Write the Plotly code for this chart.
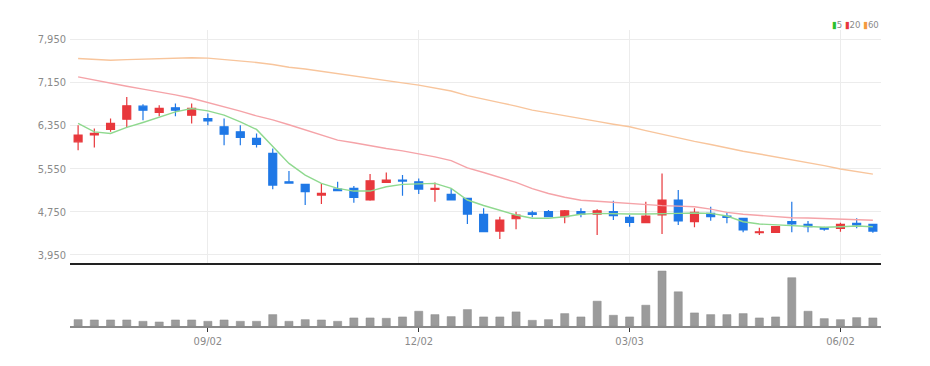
import pandas as pd
import plotly.graph_objects as go

dates = [d.strftime("%Y-%m-%d") for d in pd.date_range("2024-07-08", periods=50, freq="W-MON")]

open_ = [6048, 6178, 6278, 6469, 6709, 6593, 6678, 6543, 6481, 6326,
         6233, 6111, 5833, 5307, 5259, 5061, 5172, 5185, 4969, 5296,
         5339, 5307, 5167, 5074, 5000, 4704, 4394, 4622, 4733, 4752,
         4659, 4752, 4709, 4752, 4648, 4548, 4691, 4969, 4567, 4722,
         4672, 4630, 4363, 4370, 4567, 4518, 4456, 4444, 4537, 4518]
high = [6357, 6296, 6481, 6881, 6746, 6728, 6759, 6759, 6574, 6481,
        6357, 6204, 5926, 5506, 5270, 5278, 5307, 5228, 5450, 5481,
        5431, 5370, 5296, 5185, 5000, 4815, 4659, 4752, 4770, 4783,
        4783, 4815, 4796, 4956, 4691, 4937, 5463, 5154, 4815, 4844,
        4733, 4641, 4456, 4487, 4937, 4580, 4474, 4548, 4630, 4518]
low = [5894, 5944, 6233, 6315, 6450, 6524, 6524, 6389, 6357, 5987,
       5987, 5944, 5167, 5278, 4876, 4894, 5140, 4918, 4956, 5296,
       5048, 5080, 4937, 4969, 4524, 4372, 4246, 4426, 4648, 4648,
       4537, 4648, 4320, 4598, 4474, 4537, 4339, 4506, 4463, 4585,
       4537, 4370, 4320, 4370, 4370, 4370, 4400, 4381, 4444, 4363]
close = [6172, 6204, 6389, 6715, 6635, 6667, 6635, 6667, 6437, 6191,
         6130, 6000, 5246, 5283, 5122, 5093, 5141, 5019, 5326, 5339,
         5320, 5172, 5185, 4969, 4709, 4381, 4598, 4691, 4704, 4659,
         4770, 4709, 4770, 4678, 4556, 4672, 4969, 4580, 4741, 4659,
         4648, 4413, 4381, 4474, 4524, 4474, 4431, 4518, 4506, 4394]

volume = [19, 18, 18, 18, 14, 12, 18, 18, 14, 18,
          14, 14, 34, 14, 19, 18, 14, 24, 24, 23,
          27, 44, 34, 28, 49, 27, 27, 42, 17, 19,
          37, 27, 74, 32, 27, 62, 164, 102, 39, 34,
          34, 37, 24, 27, 144, 44, 22, 19, 25, 24]

ma5 = [6389, 6233, 6204, 6315, 6407, 6511, 6604, 6667, 6622, 6543,
       6419, 6278, 5956, 5648, 5432, 5278, 5185, 5135, 5135, 5215,
       5259, 5265, 5278, 5185, 4969, 4867, 4783, 4691, 4630, 4630,
       4659, 4704, 4722, 4709, 4709, 4709, 4722, 4722, 4728, 4722,
       4672, 4567, 4524, 4506, 4493, 4474, 4463, 4474, 4487, 4474]
ma20 = [7252, 7190, 7128, 7078, 7025, 6976, 6918, 6856, 6780, 6700,
        6618, 6530, 6455, 6365, 6272, 6180, 6080, 6030, 5975, 5925,
        5880, 5830, 5770, 5700, 5565, 5480, 5390, 5295, 5180, 5090,
        5020, 4965, 4945, 4925, 4907, 4880, 4866, 4855, 4845, 4800,
        4740, 4705, 4680, 4660, 4641, 4635, 4625, 4615, 4605, 4593]
ma60 = [7593, 7575, 7561, 7572, 7583, 7593, 7606, 7608, 7600, 7577,
        7555, 7520, 7483, 7432, 7398, 7353, 7310, 7268, 7222, 7185,
        7141, 7100, 7050, 6990, 6905, 6845, 6775, 6710, 6637, 6585,
        6528, 6480, 6428, 6375, 6327, 6255, 6186, 6122, 6056, 5999,
        5935, 5873, 5823, 5770, 5718, 5667, 5606, 5545, 5498, 5450]

tick_dates = ["2024-09-02", "2024-12-02", "2025-03-03", "2025-06-02"]
tick_labels = ["09/02", "12/02", "03/03", "06/02"]
price_ticks = [3950, 4750, 5550, 6350, 7150, 7950]

UP = "#e8383c"
DOWN = "#1f78e6"
FONT = "Liberation Sans Narrow, DejaVu Sans Condensed, Arial Narrow, sans-serif"

fig = go.Figure()
fig.add_trace(go.Scatter(x=dates, y=ma60, mode="lines", line=dict(color="#f8c59c", width=1.4),
                         xaxis="x", yaxis="y", hoverinfo="skip"))
fig.add_trace(go.Scatter(x=dates, y=ma20, mode="lines", line=dict(color="#f5a3a8", width=1.4),
                         xaxis="x", yaxis="y", hoverinfo="skip"))
fig.add_trace(go.Scatter(x=dates, y=ma5, mode="lines", line=dict(color="#8fd98f", width=1.4),
                         xaxis="x", yaxis="y", hoverinfo="skip"))
fig.add_trace(go.Candlestick(x=dates, open=open_, high=high, low=low, close=close,
                             increasing=dict(line=dict(color=UP, width=1.2), fillcolor=UP),
                             decreasing=dict(line=dict(color=DOWN, width=1.2), fillcolor=DOWN),
                             whiskerwidth=0, xaxis="x", yaxis="y"))
fig.add_trace(go.Bar(x=dates, y=volume, marker=dict(color="#9b9b9b", line=dict(color="#8c8c8c", width=0.5)),
                     width=0.5, xaxis="x2", yaxis="y2"))

fig.update_layout(
    width=930, height=366,
    margin=dict(l=62, r=57, t=22, b=48),
    paper_bgcolor="white", plot_bgcolor="white",
    showlegend=False,
    font=dict(family=FONT, size=11, color="#8a8a8a"),
    xaxis=dict(type="category", range=[-0.5, 49.5], anchor="y",
               tickvals=tick_dates, ticktext=tick_labels, showticklabels=False,
               showgrid=True, gridcolor="#ececec", gridwidth=1,
               showline=True, linecolor="#222222", linewidth=2, ticks="",
               rangeslider=dict(visible=False), zeroline=False),
    xaxis2=dict(type="category", range=[-0.5, 49.5], anchor="y2", matches="x",
                tickvals=tick_dates, ticktext=tick_labels, showgrid=False,
                showline=True, linecolor="#8a8a8a", linewidth=2,
                ticks="outside", ticklen=4, tickcolor="#333333", tickwidth=1,
                tickfont=dict(size=11, color="#8a8a8a")),
    yaxis=dict(domain=[0.213, 1], range=[3802, 8122], tickvals=price_ticks,
               tickformat=",d", showgrid=True, gridcolor="#ececec", gridwidth=1,
               zeroline=False, ticks="", ticklabelstandoff=3,
               tickfont=dict(size=11, color="#8a8a8a")),
    yaxis2=dict(domain=[0, 0.213], range=[0, 188], showticklabels=False,
                showgrid=False, zeroline=False),
    annotations=[dict(xref="paper", yref="paper", x=1.0, y=1.017, xanchor="right", yanchor="middle",
                      showarrow=False,
                      text="<span style='color:#2cbf2c'>▮</span><span style='color:#8a8a8a'>5</span> "
                           "<span style='color:#e8383c'>▮</span><span style='color:#8a8a8a'>20</span> "
                           "<span style='color:#f59a3c'>▮</span><span style='color:#8a8a8a'>60</span>",
                      font=dict(size=9.5, family=FONT))],
)

fig.write_html("out.html")
